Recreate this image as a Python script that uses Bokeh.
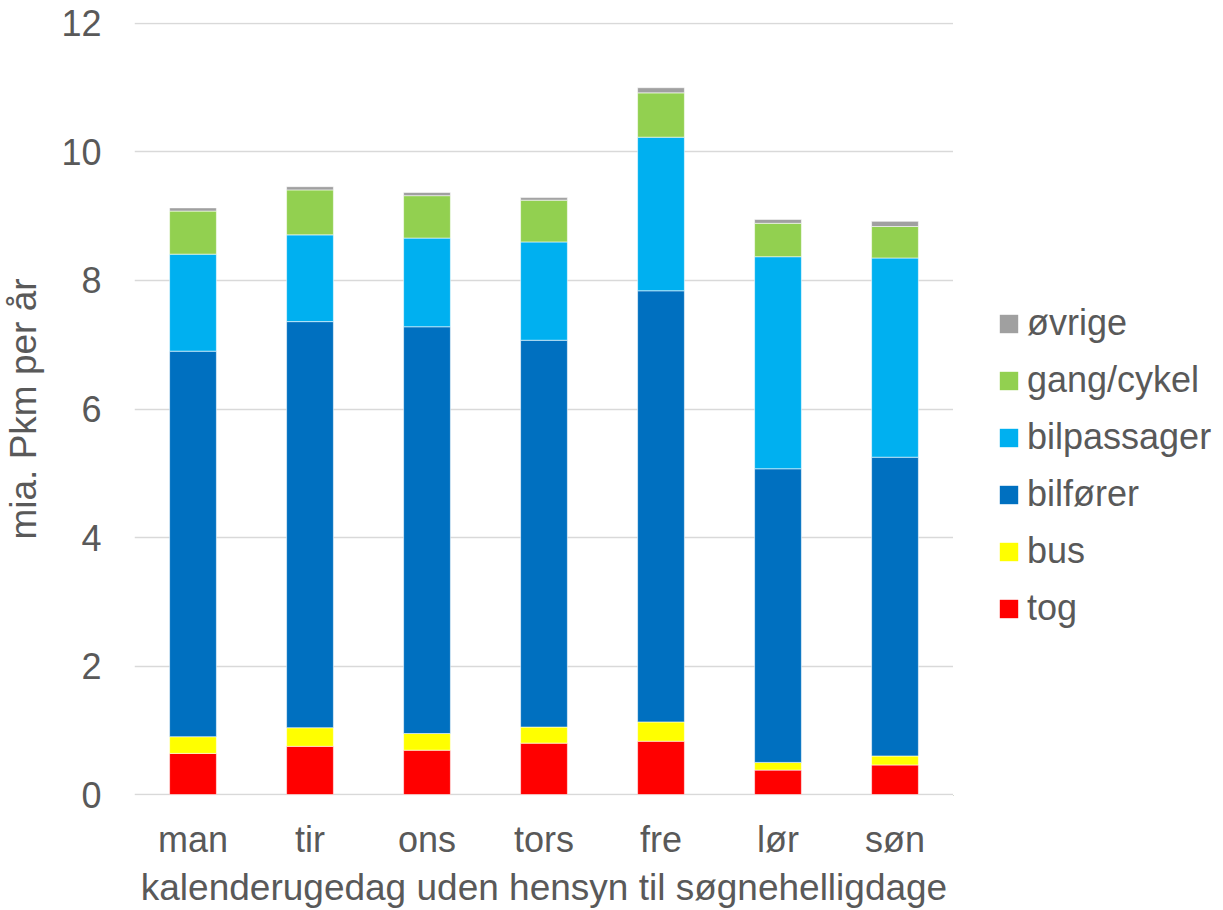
from bokeh.plotting import figure
from bokeh.layouts import row
from bokeh.models import Legend, LegendItem, Range1d, FactorRange, ColumnDataSource, FixedTicker
from bokeh.embed import file_html
from bokeh.resources import INLINE

# Weekdays (calendar day, public holidays ignored)
days = ["man", "tir", "ons", "tors", "fre", "lør", "søn"]

# Passenger-km per year (billions) by mode
tog = [0.64, 0.75, 0.69, 0.80, 0.83, 0.38, 0.46]
bus = [0.26, 0.29, 0.26, 0.25, 0.30, 0.12, 0.14]
bilforer = [6.00, 6.32, 6.33, 6.02, 6.71, 4.57, 4.65]
bilpassager = [1.51, 1.35, 1.38, 1.53, 2.39, 3.30, 3.10]
gang_cykel = [0.67, 0.70, 0.66, 0.65, 0.69, 0.52, 0.49]
ovrige = [0.05, 0.05, 0.05, 0.04, 0.08, 0.06, 0.08]

modes = ["tog", "bus", "bilfører", "bilpassager", "gang/cykel", "øvrige"]
colors = ["#FF0000", "#FFFF00", "#0070C0", "#00B0F0", "#92D050", "#A0A0A0"]
y_ticks = [0, 2, 4, 6, 8, 10, 12]

FONT = "Liberation Sans"
TEXT = "#595959"

source = ColumnDataSource(dict(
    days=days, tog=tog, bus=bus, bilforer=bilforer,
    bilpassager=bilpassager, gang_cykel=gang_cykel, ovrige=ovrige,
))
keys = ["tog", "bus", "bilforer", "bilpassager", "gang_cykel", "ovrige"]

p = figure(
    width=953, height=910,
    x_range=FactorRange(*days, range_padding=0),
    y_range=Range1d(-0.015, 12.015),
    output_backend="svg", toolbar_location=None,
    min_border_left=132, min_border_right=0,
    min_border_top=22, min_border_bottom=114,
)
p.outline_line_color = None
p.background_fill_color = "white"
p.border_fill_color = "white"

p.vbar_stack(
    keys, x="days", width=0.4, source=source, color=colors,
    line_color="white", line_alpha=0.55, line_width=1,
)

# Axes
p.xaxis.axis_line_color = None
p.yaxis.axis_line_color = None
p.xaxis.major_tick_line_color = None
p.yaxis.major_tick_line_color = None
p.xaxis.minor_tick_line_color = None
p.yaxis.minor_tick_line_color = None
p.xaxis.major_tick_out = 0
p.yaxis.major_tick_out = 0
p.yaxis.ticker = FixedTicker(ticks=y_ticks)

for ax in (p.xaxis, p.yaxis):
    ax.major_label_text_font = FONT
    ax.major_label_text_font_size = "36px"
    ax.major_label_text_color = TEXT
    ax.axis_label_text_font = FONT
    ax.axis_label_text_font_size = "37px"
    ax.axis_label_text_color = TEXT
    ax.axis_label_text_font_style = "normal"

p.xaxis.major_label_standoff = 23
p.yaxis.major_label_standoff = 33
p.xaxis.axis_label = "kalenderugedag uden hensyn til søgnehelligdage"
p.yaxis.axis_label = "mia. Pkm per år"
p.xaxis.axis_label_standoff = 4
p.yaxis.axis_label_standoff = 14

p.xgrid.grid_line_color = None
p.ygrid.grid_line_color = "#D9D9D9"
p.ygrid.grid_line_width = 1.5
p.ygrid.ticker = FixedTicker(ticks=y_ticks)

# Legend panel to the right of the chart; top entry is the top segment of the stack.
# Swatch renderers sit outside the visible range so only their legend glyphs show.
lg = figure(
    width=270, height=910, output_backend="svg", toolbar_location=None,
    x_range=Range1d(0, 1), y_range=Range1d(0, 1),
    min_border=0, outline_line_color=None,
)
lg.axis.visible = False
lg.grid.visible = False
swatches = [
    lg.vbar(x=[-10], top=[-10], width=0.1, color=c, line_color=None)
    for c in colors
]
items = [LegendItem(label=m, renderers=[r]) for m, r in zip(modes, swatches)][::-1]
legend = Legend(
    items=items, location=(44, 166),
    label_text_font=FONT, label_text_font_size="36px", label_text_color=TEXT,
    glyph_width=23, glyph_height=23, label_standoff=7,
    label_height=40, spacing=15, padding=0, margin=0,
    border_line_color=None, background_fill_alpha=0,
)
lg.add_layout(legend)

layout = row(p, lg, spacing=0)
open("out.html", "w").write(file_html(layout, INLINE))
